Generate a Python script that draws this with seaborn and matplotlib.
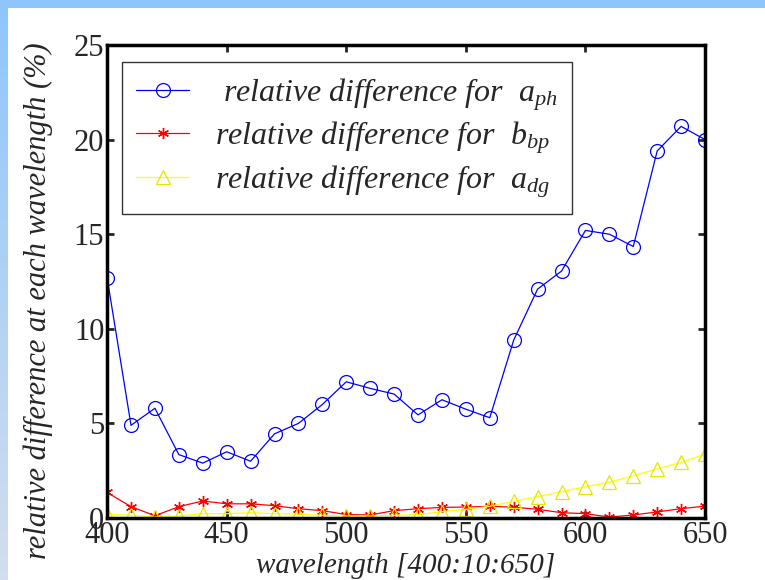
import numpy as np
import pandas as pd
import matplotlib
matplotlib.use("Agg")
import matplotlib.pyplot as plt
import seaborn as sns
from matplotlib.colors import LinearSegmentedColormap

wavelength = list(range(400, 651, 10))
a_ph = [12.7, 4.9, 5.8, 3.35, 2.9, 3.5, 3.0, 4.45, 5.0, 6.0, 7.2, 6.85, 6.55, 5.45,
        6.25, 5.75, 5.3, 9.4, 12.1, 13.05, 15.2, 15.0, 14.35, 19.4, 20.7, 20.0]
b_bp = [1.35, 0.6, 0.12, 0.6, 0.9, 0.75, 0.75, 0.65, 0.49, 0.39, 0.18, 0.16, 0.39, 0.49,
        0.56, 0.58, 0.62, 0.57, 0.46, 0.28, 0.23, 0.05, 0.16, 0.32, 0.49, 0.63]
a_dg = [0.2, 0.14, 0.05, 0.1, 0.23, 0.23, 0.28, 0.23, 0.2, 0.14, 0.1, 0.1, 0.14, 0.18,
        0.33, 0.46, 0.62, 0.88, 1.13, 1.39, 1.65, 1.89, 2.24, 2.59, 2.94, 3.37]
labels = [r" relative difference for  $a_{ph}$",
          r"relative difference for  $b_{bp}$",
          r"relative difference for  $a_{dg}$"]
xticks = [400, 450, 500, 550, 600, 650]
yticks = [0, 5, 10, 15, 20, 25]

sns.set_style("ticks")
plt.rcParams['font.family'] = ['Liberation Serif', 'DejaVu Serif']
plt.rcParams['mathtext.fontset'] = 'custom'
plt.rcParams['mathtext.it'] = 'Liberation Serif:italic'
plt.rcParams['mathtext.rm'] = 'Liberation Serif'

fig = plt.figure(figsize=(7.65, 5.8), dpi=100)
fig.patch.set_facecolor('white')

# background decoration strips
grad_ax = fig.add_axes([0, 0, 8 / 765, 1])
grad = np.linspace(0, 1, 256).reshape(-1, 1)
cmap = LinearSegmentedColormap.from_list("g", ["#8ec6fb", "#d3deee"])
grad_ax.imshow(grad, aspect='auto', cmap=cmap, extent=[0, 1, 0, 1], origin='upper')
grad_ax.axis('off')
top_ax = fig.add_axes([0, 1 - 8 / 580, 1, 8 / 580])
top_ax.set_facecolor("#8ec6fb")
top_ax.set_xticks([]); top_ax.set_yticks([])
for s in top_ax.spines.values():
    s.set_visible(False)

ax = fig.add_axes([0.140, 0.1069, 0.7816, 0.8155])

df = pd.DataFrame({"wavelength": wavelength, "a_ph": a_ph, "b_bp": b_bp, "a_dg": a_dg})
sns.lineplot(data=df, x="wavelength", y="a_ph", ax=ax, color="#0000ff", lw=0.9,
             marker='o', ms=10, mfc='none', mec='#0000ff', mew=0.9, label=labels[0])
sns.lineplot(data=df, x="wavelength", y="b_bp", ax=ax, color="#ff0000", lw=0.9,
             marker=(6, 2, 0), ms=8, mec='#ff0000', mew=1.0, label=labels[1])
sns.lineplot(data=df, x="wavelength", y="a_dg", ax=ax, color="#ffff00", lw=0.9,
             marker='^', ms=10, mfc='none', mec='#e6e600', mew=0.9, label=labels[2])

ax.set_xlim(400, 650)
ax.set_ylim(0, 25)
ax.set_xticks(xticks)
ax.set_yticks(yticks)
ax.tick_params(direction='in', length=5, width=2, top=True, right=True,
               labelsize=22, pad=2)
for s in ax.spines.values():
    s.set_linewidth(2.5)
    s.set_color('black')
ax.set_xlabel("wavelength [400:10:650]", fontsize=21, style='italic')
ax.xaxis.set_label_coords(0.5, -0.074)
ax.set_ylabel("relative difference at each wavelength (%)", fontsize=22,
              style='italic')
ax.yaxis.set_label_coords(-0.09, 0.46)

leg = ax.legend(loc='upper left', bbox_to_anchor=(0.025, 0.965), fontsize=23,
                frameon=True, fancybox=False, edgecolor='black', borderpad=0.45,
                labelspacing=0.22, handlelength=1.65, handletextpad=0.8,
                borderaxespad=0)
leg.get_frame().set_linewidth(1.0)
for t in leg.get_texts():
    t.set_fontstyle('italic')

fig.savefig("out.png", dpi=100, facecolor=fig.get_facecolor())
